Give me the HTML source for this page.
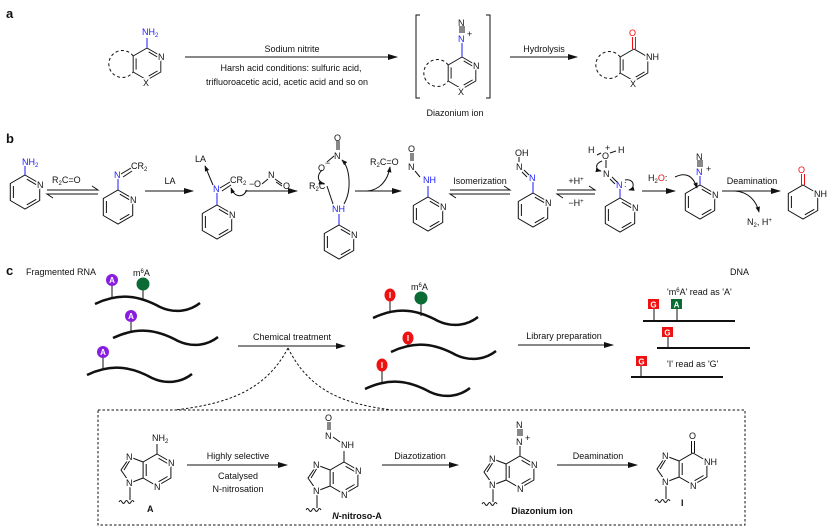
<!DOCTYPE html>
<html><head><meta charset="utf-8"><style>
html,body{margin:0;padding:0;background:#fff}
svg{display:block}
text{font-family:"Liberation Sans",sans-serif;font-size:9px;fill:#111}
.h{paint-order:stroke;stroke:#fff;stroke-width:3px;stroke-linejoin:round}
.b{fill:#1a1aff}.r{fill:#f01010}
.bold{font-weight:bold}
.L{font-weight:bold;font-size:13px}
.w{fill:#fff;font-weight:bold;font-size:8px}
</style></head><body>
<svg width="832" height="530" viewBox="0 0 832 530" xmlns="http://www.w3.org/2000/svg">
<defs>
<marker id="ah" viewBox="0 0 10 6" refX="9" refY="3" markerWidth="10" markerHeight="6" markerUnits="userSpaceOnUse" orient="auto"><path d="M0,0L10,3L0,6z" fill="#111"/></marker>
<marker id="sh" viewBox="0 0 8 6" refX="7" refY="3" markerWidth="6" markerHeight="5" markerUnits="userSpaceOnUse" orient="auto"><path d="M0,0L8,3L0,6z" fill="#111"/></marker>
<symbol id="py" overflow="visible"><g stroke="#111" stroke-width="1" fill="none">
<path d="M0,-17L14.7,-8.5L14.7,8.5L0,17L-14.7,8.5L-14.7,-8.5Z"/>
<path d="M1.8,-12.8L11.3,-7.3M11.3,7.3L1.8,12.8M-11.6,6L-11.6,-6"/></g></symbol>
<symbol id="py2" overflow="visible"><g stroke="#111" stroke-width="1" fill="none">
<path d="M0,-17L14.7,-8.5L14.7,8.5L0,17L-14.7,8.5L-14.7,-8.5Z"/>
<path d="M11.3,7.3L1.8,12.8M-11.6,6L-11.6,-6"/></g></symbol>
<symbol id="pu" overflow="visible"><g stroke="#111" stroke-width="1" fill="none">
<path d="M0,-16L13.9,-8L13.9,8L0,16L-13.9,8L-13.9,-8Z"/>
<path d="M-13.9,-8L-27,-13L-36,0L-27,13L-13.9,8"/>
<path d="M10.6,6.5L1.6,11.7M-10.8,6L-10.8,-6M-27.5,-9L-33,0"/>
<path d="M-27,13L-27,30"/>
<path d="M-38,32q1.5,-3 3,0t3,0t3,0t3,0t3,0"/></g></symbol>
</defs>

<!-- ============ a ============ -->
<text x="6" y="18" class="L">a</text>
<g transform="translate(147,64) scale(0.94)"><use href="#py"/></g>
<path d="M147,48L147,38" stroke="#1a1aff"/>
<path d="M133.2,56A13.5,13.5 0 1 0 133.2,72" stroke="#111" fill="none" stroke-dasharray="3,2.5"/>
<text x="142" y="35" class="b">NH<tspan font-size="6" dy="2">2</tspan></text>
<text x="158" y="60" class="h">N</text>
<text x="143" y="86" class="h">X</text>
<line x1="185" y1="57" x2="397" y2="57" stroke="#111" marker-end="url(#ah)"/>
<text x="292" y="52" text-anchor="middle">Sodium nitrite</text>
<text x="291" y="71" text-anchor="middle">Harsh acid conditions: sulfuric acid,</text>
<text x="287" y="85" text-anchor="middle">trifluoroacetic acid, acetic acid and so on</text>
<path d="M420,15H416V98H420M486,15H490V98H486" stroke="#111" fill="none"/>
<g transform="translate(462,73) scale(0.94)"><use href="#py"/></g>
<path d="M462,57L462,43" stroke="#1a1aff"/>
<path d="M460,33V26M462,33V26M464,33V26" stroke="#111"/>
<path d="M448.2,65A13.5,13.5 0 1 0 448.2,81" stroke="#111" fill="none" stroke-dasharray="3,2.5"/>
<text x="458" y="26">N</text>
<text x="458" y="42" class="b">N</text><text x="467" y="37" font-size="7">+</text>
<text x="473" y="69" class="h">N</text>
<text x="458" y="95" class="h">X</text>
<text x="455" y="116" text-anchor="middle">Diazonium ion</text>
<line x1="510" y1="57" x2="577" y2="57" stroke="#111" marker-end="url(#ah)"/>
<text x="544" y="52" text-anchor="middle">Hydrolysis</text>
<g transform="translate(634,65) scale(0.94)"><use href="#py2"/></g>
<path d="M632.5,49V37M635.5,49V37" stroke="#f01010"/>
<path d="M620.2,57A13.5,13.5 0 1 0 620.2,73" stroke="#111" fill="none" stroke-dasharray="3,2.5"/>
<text x="629" y="36" class="r" font-size="10">O</text>
<text x="646" y="60" class="h">NH</text>
<text x="630" y="87" class="h">X</text>

<!-- ============ b ============ -->
<text x="6" y="143" class="L">b</text>
<use href="#py" x="25" y="192"/>
<path d="M25,175V166" stroke="#1a1aff"/>
<text x="22" y="165" class="b">NH<tspan font-size="6" dy="2">2</tspan></text>
<text x="37" y="188" class="h">N</text>
<path d="M47,190H98L92,186" stroke="#111" fill="none"/>
<path d="M98,194H47L53,198" stroke="#111" fill="none"/>
<text x="52" y="183">R<tspan font-size="6" dy="2">2</tspan><tspan dy="-2">C=O</tspan></text>
<use href="#py" x="118" y="207"/>
<path d="M118,190V179" stroke="#1a1aff"/>
<path d="M121,174L131,168M123,177L132,171" stroke="#111"/>
<text x="114" y="178" class="b">N</text>
<text x="131" y="169">CR<tspan font-size="6" dy="2">2</tspan></text>
<text x="130" y="203" class="h">N</text>
<line x1="145" y1="191" x2="193" y2="191" stroke="#111" marker-end="url(#ah)"/>
<text x="170" y="184" text-anchor="middle">LA</text>
<use href="#py" x="217" y="222"/>
<path d="M217,205V193" stroke="#1a1aff"/>
<path d="M220,188L230,182M222,191L231,185" stroke="#111"/>
<text x="213" y="192" class="b">N</text>
<text x="230" y="183">CR<tspan font-size="6" dy="2">2</tspan></text>
<text x="229" y="218" class="h">N</text>
<text x="195" y="162">LA</text>
<line x1="213" y1="185" x2="205" y2="166" stroke="#111" marker-end="url(#sh)"/>
<path d="M247,190C243,198 235,198 231,188" stroke="#111" fill="none" marker-end="url(#sh)"/>
<text x="249" y="187" font-size="7">−</text><text x="254" y="187">O</text>
<path d="M262,184L268,179M275,179L282,184M276,182L282,186" stroke="#111"/>
<text x="268" y="178">N</text><text x="283" y="189">O</text>
<line x1="245" y1="191" x2="297" y2="191" stroke="#111" marker-end="url(#ah)"/>
<use href="#py" x="339" y="242"/>
<path d="M339,225V214" stroke="#1a1aff"/>
<text x="332" y="212" class="b">NH</text>
<text x="309" y="189">R<tspan font-size="6" dy="2">2</tspan><tspan dy="-2">C</tspan></text>
<path d="M327,186L333,204" stroke="#111"/>
<text x="318" y="171">O</text><text x="325" y="166" font-size="6">−</text>
<path d="M327,162L334,156" stroke="#111"/>
<text x="334" y="159">N</text>
<path d="M337,150V141M339,150V141" stroke="#111"/>
<text x="334" y="141">O</text>
<path d="M322,170C316,176 318,182 324,184" stroke="#111" fill="none" marker-end="url(#sh)"/>
<path d="M344,204C352,190 350,168 342,160" stroke="#111" fill="none" marker-end="url(#sh)"/>
<text x="351" y="238" class="h">N</text>
<line x1="355" y1="191" x2="401" y2="191" stroke="#111" marker-end="url(#ah)"/>
<path d="M367,191C380,190 388,180 390,167" stroke="#111" fill="none" marker-end="url(#sh)"/>
<text x="370" y="165">R<tspan font-size="6" dy="2">2</tspan><tspan dy="-2">C=O</tspan></text>
<use href="#py" x="428" y="214"/>
<path d="M428,197V186" stroke="#1a1aff"/>
<text x="423" y="183" class="b">NH</text>
<path d="M420,177L415,171" stroke="#111"/>
<text x="408" y="170">N</text>
<path d="M411,161V153M413,161V153" stroke="#111"/>
<text x="408" y="152">O</text>
<text x="440" y="210" class="h">N</text>
<path d="M450,190H510L504,186" stroke="#111" fill="none"/>
<path d="M510,194H450L456,198" stroke="#111" fill="none"/>
<text x="480" y="184" text-anchor="middle">Isomerization</text>
<use href="#py" x="533" y="210"/>
<path d="M533,193V182" stroke="#1a1aff"/>
<text x="529" y="181" class="b">N</text>
<path d="M524,170L529,175M522,172L527,177" stroke="#111"/>
<text x="516" y="170">N</text>
<path d="M519,162V157" stroke="#111"/>
<text x="515" y="156">OH</text>
<text x="545" y="206" class="h">N</text>
<path d="M557,190H595L589,186" stroke="#111" fill="none"/>
<path d="M595,194H557L563,198" stroke="#111" fill="none"/>
<text x="576" y="184" text-anchor="middle">+H<tspan font-size="6" dy="-3">+</tspan></text>
<text x="576" y="206" text-anchor="middle">−H<tspan font-size="6" dy="-3">+</tspan></text>
<use href="#py" x="620" y="215"/>
<path d="M620,198V189" stroke="#1a1aff"/>
<text x="616" y="188" class="b">N</text><text x="624" y="187">:</text>
<path d="M612,177L617,182M610,179L615,184" stroke="#111"/>
<text x="603" y="177">N</text>
<path d="M606,168V160" stroke="#111"/>
<text x="602" y="159">O</text><text x="605" y="151" font-size="7">+</text>
<text x="588" y="153">H</text><text x="618" y="153">H</text>
<path d="M597,155L601,153M610,153L616,151" stroke="#111"/>
<path d="M602,161C594,164 596,170 601,171" stroke="#111" fill="none" marker-end="url(#sh)"/>
<path d="M625,180C634,178 636,188 629,190" stroke="#111" fill="none" marker-end="url(#sh)"/>
<text x="632" y="211" class="h">N</text>
<line x1="642" y1="191" x2="675" y2="191" stroke="#111" marker-end="url(#ah)"/>
<text x="648" y="181">H<tspan font-size="6" dy="2">2</tspan><tspan dy="-2" class="r">O</tspan>:</text>
<path d="M675,177C685,172 693,175 697,188" stroke="#111" fill="none" marker-end="url(#sh)"/>
<use href="#py" x="700" y="202"/>
<path d="M700,185V176" stroke="#1a1aff"/>
<text x="696" y="175" class="b">N</text><text x="706" y="172">+</text>
<path d="M698,167V160M700,167V160M702,167V160" stroke="#111"/>
<text x="696" y="160">N</text>
<text x="712" y="198" class="h">N</text>
<line x1="722" y1="191" x2="780" y2="191" stroke="#111" marker-end="url(#ah)"/>
<text x="752" y="184" text-anchor="middle">Deamination</text>
<path d="M735,191C748,192 756,200 759,212" stroke="#111" fill="none" marker-end="url(#sh)"/>
<text x="747" y="225">N<tspan font-size="6" dy="2">2</tspan><tspan dy="-2">, H</tspan><tspan font-size="6" dy="-3">+</tspan></text>
<use href="#py2" x="803" y="202"/>
<path d="M801.5,185V174M804.5,185V174" stroke="#f01010"/>
<text x="798" y="173" class="r" font-size="10">O</text>
<text x="814" y="197" class="h">NH</text>

<!-- ============ c ============ -->
<text x="6" y="275" class="L">c</text>
<text x="26" y="275">Fragmented RNA</text>
<g stroke="#111" stroke-width="2.5" fill="none">
<path d="M95,304C120,292 140,296 160,307C175,314 190,311 200,303"/>
<path d="M113,338C138,326 158,330 178,341C193,348 208,345 218,337"/>
<path d="M87,375C112,363 132,367 152,378C167,385 182,382 192,374"/>
<path d="M373,318C398,306 418,310 438,321C453,328 468,325 478,317"/>
<path d="M391,352C416,340 436,344 456,355C471,362 486,359 496,351"/>
<path d="M365,389C390,377 410,381 430,392C445,399 460,396 470,388"/>
</g>
<g stroke="#111" stroke-width="1">
<path d="M112,285V298M143,289V301M131,321V333M103,357V369"/>
<path d="M390,300V311M421,303V316M408,343V347M382,370V384"/>
<path d="M654,308V321M677,308V321M668,336V348M641,365V377"/>
</g>
<g fill="#8a1ee0"><circle cx="112" cy="280" r="6"/><circle cx="131" cy="316" r="6"/><circle cx="103" cy="352" r="6"/></g>
<g fill="#0b6b35"><circle cx="143" cy="284" r="6.5"/><circle cx="421" cy="298" r="6.5"/></g>
<g fill="#ee1111"><ellipse cx="390" cy="295" rx="5.5" ry="6.5"/><ellipse cx="408" cy="338" rx="5.5" ry="6.5"/><ellipse cx="382" cy="365" rx="5.5" ry="6.5"/></g>
<text x="112" y="283" class="w" text-anchor="middle">A</text>
<text x="131" y="319" class="w" text-anchor="middle">A</text>
<text x="103" y="355" class="w" text-anchor="middle">A</text>
<text x="390" y="298" class="w" text-anchor="middle">I</text>
<text x="408" y="341" class="w" text-anchor="middle">I</text>
<text x="382" y="368" class="w" text-anchor="middle">I</text>
<text x="133" y="276">m<tspan font-size="6" dy="-3">6</tspan><tspan dy="3">A</tspan></text>
<text x="411" y="290">m<tspan font-size="6" dy="-3">6</tspan><tspan dy="3">A</tspan></text>
<line x1="238" y1="346" x2="345" y2="346" stroke="#111" marker-end="url(#ah)"/>
<text x="292" y="340" text-anchor="middle">Chemical treatment</text>
<line x1="518" y1="345" x2="613" y2="345" stroke="#111" marker-end="url(#ah)"/>
<text x="564" y="339" text-anchor="middle">Library preparation</text>
<text x="730" y="275">DNA</text>
<text x="667" y="295">'m<tspan font-size="6" dy="-3">6</tspan><tspan dy="3">A'  read as 'A'</tspan></text>
<g stroke="#111" stroke-width="2"><path d="M643,321H735M657,348H750M631,377H723"/></g>
<g fill="#ee1111"><rect x="648" y="299" width="11" height="10"/><rect x="662" y="327" width="11" height="10"/><rect x="636" y="356" width="11" height="10"/></g>
<rect x="671" y="299" width="11" height="10" fill="#0b6b35"/>
<text x="653.5" y="307.5" class="w" text-anchor="middle">G</text>
<text x="676.5" y="307.5" class="w" text-anchor="middle">A</text>
<text x="667.5" y="335.5" class="w" text-anchor="middle">G</text>
<text x="641.5" y="364.5" class="w" text-anchor="middle">G</text>
<text x="667" y="367">'I'  read as 'G'</text>
<g stroke="#111" fill="none" stroke-dasharray="2.5,2"><path d="M288,348C265,392 225,404 175,410"/><path d="M288,348C310,392 345,404 392,410"/>
<rect x="98" y="410" width="647" height="115"/></g>

<g transform="translate(157,470)"><use href="#pu"/>
<path d="M0,-16V-26M1.6,-11.7L10.6,-6.5" stroke="#111"/>
<text x="-5" y="-29">NH<tspan font-size="6" dy="2">2</tspan></text>
<text x="11" y="-4" class="h">N</text><text x="-3" y="20" class="h">N</text>
<text x="-31" y="-10" class="h">N</text><text x="-31" y="16" class="h">N</text></g>
<text x="147" y="512" class="bold">A</text>
<line x1="187" y1="465" x2="287" y2="465" stroke="#111" marker-end="url(#ah)"/>
<text x="238" y="459" text-anchor="middle">Highly selective</text>
<text x="238" y="479" text-anchor="middle">Catalysed</text>
<text x="238" y="492" text-anchor="middle">N-nitrosation</text>

<g transform="translate(344,478)"><use href="#pu"/>
<path d="M0,-16V-27M1.6,-11.7L10.6,-6.5M-4,-36L-11,-41M-14,-48V-56M-16,-48V-56" stroke="#111"/>
<text x="-3" y="-30">NH</text><text x="-19" y="-39">N</text><text x="-19" y="-57">O</text>
<text x="11" y="-4" class="h">N</text><text x="-3" y="20" class="h">N</text>
<text x="-31" y="-10" class="h">N</text><text x="-31" y="16" class="h">N</text></g>
<text x="357" y="519" class="bold" text-anchor="middle"><tspan font-style="italic">N</tspan>-nitroso-A</text>
<line x1="382" y1="465" x2="458" y2="465" stroke="#111" marker-end="url(#ah)"/>
<text x="420" y="459" text-anchor="middle">Diazotization</text>

<g transform="translate(520,472)"><use href="#pu"/>
<path d="M0,-16V-26M1.6,-11.7L10.6,-6.5M-2,-36V-43M0,-36V-43M2,-36V-43" stroke="#111"/>
<text x="-4" y="-27">N</text><text x="5" y="-31" font-size="7">+</text><text x="-4" y="-44">N</text>
<text x="11" y="-4" class="h">N</text><text x="-3" y="20" class="h">N</text>
<text x="-31" y="-10" class="h">N</text><text x="-31" y="16" class="h">N</text></g>
<text x="542" y="514" class="bold" text-anchor="middle">Diazonium ion</text>
<line x1="557" y1="465" x2="637" y2="465" stroke="#111" marker-end="url(#ah)"/>
<text x="598" y="459" text-anchor="middle">Deamination</text>

<g transform="translate(693,469)"><use href="#pu"/>
<path d="M-1.5,-16V-28M1.5,-16V-28" stroke="#111"/>
<text x="-4" y="-30">O</text>
<text x="11" y="-4" class="h">NH</text><text x="-3" y="20" class="h">N</text>
<text x="-31" y="-10" class="h">N</text><text x="-31" y="16" class="h">N</text></g>
<text x="681" y="506" class="bold">I</text>
</svg>
</body></html>
